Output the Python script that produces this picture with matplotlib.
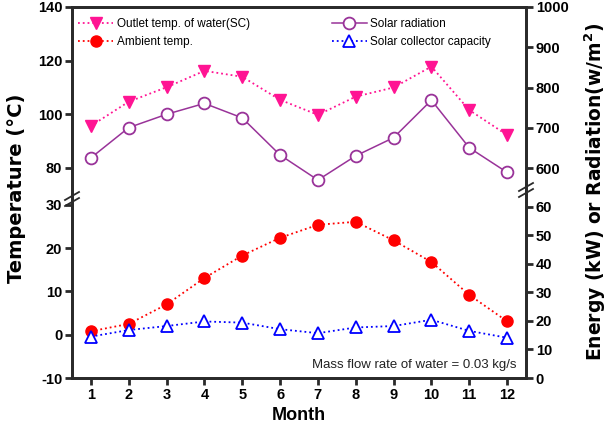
import matplotlib
matplotlib.use('Agg')
import matplotlib.pyplot as plt
from matplotlib.lines import Line2D

MONTHS = [1, 2, 3, 4, 5, 6, 7, 8, 9, 10, 11, 12]
OUTLET_TEMP = [95.7, 104.7, 110.1, 116.2, 114.0, 105.4, 99.8, 106.6, 110.0, 117.8, 101.6, 92.3]
SOLAR_RAD = [626, 701, 734, 761, 725, 633, 571, 631, 676, 769, 651, 590]
AMBIENT_TEMP = [0.8, 2.5, 7.0, 13.1, 18.3, 22.4, 25.4, 26.1, 21.8, 16.8, 9.2, 3.1]
COLLECTOR_CAP = [14.5, 16.8, 18.2, 19.8, 19.4, 17.1, 15.7, 17.7, 18.2, 20.4, 16.5, 14.1]

PINK = '#FF1493'
RED = '#FF0000'
PURPLE = '#993399'
BLUE = '#0000FF'
SPINE = '#2a2a2a'

plt.rcParams['font.family'] = ['Liberation Sans', 'DejaVu Sans']
plt.rcParams['axes.unicode_minus'] = False

fig = plt.figure(figsize=(6.11, 4.26), dpi=100)
left, right = 72 / 611, 526 / 611
y_mid = 1 - 201 / 426
ax_top = fig.add_axes([left, y_mid, right - left, (1 - 7 / 426) - y_mid])
ax_bot = fig.add_axes([left, 1 - 378 / 426, right - left, y_mid - (1 - 378 / 426)])
ax_top_r = ax_top.twinx()
ax_bot_r = ax_bot.twinx()

# top panel
ax_top.plot(MONTHS, OUTLET_TEMP, linestyle=':', color=PINK, lw=1.3,
            marker='v', ms=9, mfc=PINK, mec=PINK)
ax_top_r.plot(MONTHS, SOLAR_RAD, linestyle='-', color=PURPLE, lw=1.1,
              marker='o', ms=8.5, mfc='white', mec=PURPLE, mew=1.3)
ax_top.set_ylim(67.7, 140)
ax_top_r.set_ylim(519, 1000)
ax_top.set_yticks([80, 100, 120, 140])
ax_top_r.set_yticks([600, 700, 800, 900, 1000])

# bottom panel
ax_bot.plot(MONTHS, AMBIENT_TEMP, linestyle=':', color=RED, lw=1.3,
            marker='o', ms=8, mfc=RED, mec=RED)
ax_bot_r.plot(MONTHS, COLLECTOR_CAP, linestyle=':', color=BLUE, lw=1.3,
              marker='^', ms=8.5, mfc='white', mec=BLUE, mew=1.3)
ax_bot.set_ylim(-10, 30.9)
ax_bot_r.set_ylim(0, 62)
ax_bot.set_yticks([-10, 0, 10, 20, 30])
ax_bot_r.set_yticks([0, 10, 20, 30, 40, 50, 60])

for ax in (ax_top, ax_bot, ax_top_r, ax_bot_r):
    ax.set_xlim(0.5, 12.5)
    ax.patch.set_alpha(0)
    for s in ax.spines.values():
        s.set_linewidth(2)
        s.set_color(SPINE)
    ax.tick_params(axis='both', direction='out', length=5, width=2, color=SPINE,
                   labelsize=10.5, pad=2)
    for lab in ax.get_xticklabels() + ax.get_yticklabels():
        lab.set_fontweight('bold')

for ax in (ax_top, ax_top_r):
    ax.spines['bottom'].set_visible(False)
    ax.tick_params(axis='x', bottom=False, labelbottom=False)
for ax in (ax_bot, ax_bot_r):
    ax.spines['top'].set_visible(False)
ax_bot.set_xticks(MONTHS)
ax_bot.set_xticklabels([str(m) for m in MONTHS], fontweight='bold', fontsize=10.5)
ax_bot_r.tick_params(axis='x', bottom=False, labelbottom=False)

# break marks
for xc, yc in [(72, 199), (526, 190)]:
    for dy in (-3, 3):
        x0, x1 = (xc - 7) / 611, (xc + 7) / 611
        y0, y1 = 1 - (yc + dy + 4) / 426, 1 - (yc + dy - 4) / 426
        fig.lines.append(Line2D([x0, x1], [y0, y1], transform=fig.transFigure,
                                color=SPINE, lw=1.3))

fig.text(17 / 611, 1 - 188 / 426, 'Temperature (°C)', rotation=90, ha='center',
         va='center', fontsize=14, fontweight='bold', family='DejaVu Sans')
fig.text(595 / 611, 1 - 192 / 426, 'Energy (kW) or Radiation(w/m$^\\mathbf{2}$)',
         rotation=90, ha='center', va='center', fontsize=13.5, fontweight='bold',
         family='DejaVu Sans')
fig.text((left + right) / 2, 1 - 415 / 426, 'Month', ha='center', va='center',
         fontsize=13, fontweight='bold')

ax_bot_r.text(12.25, 4.5, 'Mass flow rate of water = 0.03 kg/s', ha='right',
              va='center', fontsize=9.5, color='#222222')

handles = ax_top.get_lines() + ax_bot.get_lines() + ax_top_r.get_lines() + ax_bot_r.get_lines()
labels = ['Outlet temp. of water(SC)', 'Ambient temp.', 'Solar radiation',
          'Solar collector capacity']
ax_top_r.legend(handles, labels, ncol=2, loc='upper left', frameon=False,
                bbox_to_anchor=(78 / 611, 1 - 18 / 426), bbox_transform=fig.transFigure,
                fontsize=8.5, handlelength=3, handletextpad=0.3, columnspacing=6.9,
                labelspacing=0.55, borderaxespad=0, borderpad=0)

fig.savefig('out.png', dpi=100)
